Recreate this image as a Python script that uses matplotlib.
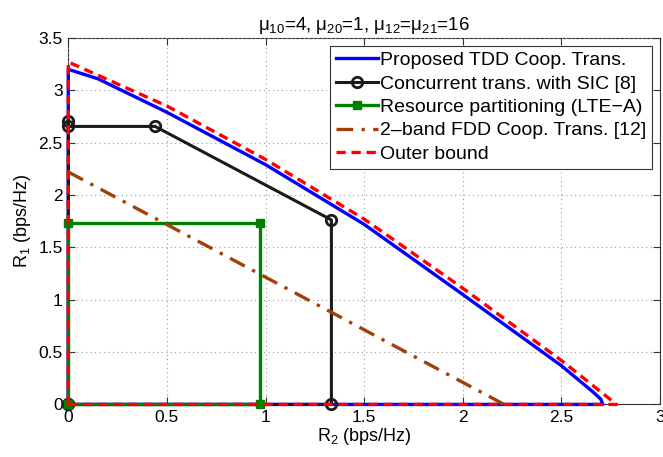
import matplotlib
matplotlib.use("Agg")
import matplotlib.pyplot as plt
import numpy as np

plt.rcParams['font.family'] = ['Liberation Sans', 'DejaVu Sans']
plt.rcParams['mathtext.fontset'] = 'custom'
plt.rcParams['mathtext.rm'] = 'Liberation Sans'
plt.rcParams['mathtext.it'] = 'Liberation Sans'
plt.rcParams['mathtext.default'] = 'regular'

# Proposed TDD cooperative transmission region (R2, R1)
tdd_r2 = [0.0, 0.0, 0.15, 0.5, 1.0, 1.5, 2.0, 2.5, 2.66, 2.70, 2.71, 0.0]
tdd_r1 = [0.0, 3.20, 3.11, 2.79, 2.29, 1.72, 1.05, 0.37, 0.12, 0.05, 0.0, 0.0]

# Concurrent transmission with SIC [8]
sic_r2 = [0.0, 0.0, 0.0, 0.44, 1.334, 1.334, 0.0]
sic_r1 = [0.0, 2.71, 2.655, 2.655, 1.762, 0.0, 0.0]

# Resource partitioning (LTE-A)
rp_r2 = [0.0, 0.0, 0.972, 0.972, 0.0]
rp_r1 = [0.0, 1.737, 1.737, 0.0, 0.0]

# 2-band FDD cooperative transmission [12]
fdd_r2 = [0.0, 2.21]
fdd_r1 = [2.22, 0.0]

# Outer bound
ob_r2 = [0.0, 0.0, 0.5, 1.0, 1.5, 2.0, 2.5, 2.78, 0.0]
ob_r1 = [0.0, 3.27, 2.85, 2.34, 1.77, 1.11, 0.42, 0.0, 0.0]

fig = plt.figure(figsize=(6.63, 4.57), dpi=100)
ax = fig.add_axes([0.103, 0.115, 0.8925, 0.802])

ax.plot(tdd_r2, tdd_r1, color='#0000ff', lw=2.4, label='Proposed TDD Coop. Trans.',
        zorder=3, clip_on=False)
ax.plot(sic_r2, sic_r1, color='#1a1a1a', lw=2.2, marker='o', ms=7.5, mfc='none',
        mew=2.0, label='Concurrent trans. with SIC [8]', zorder=4, clip_on=False)
ax.plot(rp_r2, rp_r1, color='#008000', lw=2.4, marker='s', ms=6, mfc='#008000',
        label='Resource partitioning (LTE\u2212A)', zorder=5, clip_on=False)
ax.plot(fdd_r2, fdd_r1, color='#a0400a', lw=2.4, ls=(0, (5, 2.5, 1, 2.5)),
        label='2\u2013band FDD Coop. Trans. [12]', zorder=5, clip_on=False)
ax.plot(ob_r2, ob_r1, color='#ff0000', lw=2.4, ls=(0, (2.8, 1.7)),
        label='Outer bound', zorder=6, clip_on=False)

ax.set_xlim(0, 3)
ax.set_ylim(0, 3.5)
ax.set_xticks(np.arange(0, 3.01, 0.5))
ax.set_xticklabels(['0', '0.5', '1', '1.5', '2', '2.5', '3'])
ax.set_yticks(np.arange(0, 3.51, 0.5))
ax.set_yticklabels(['0', '0.5', '1', '1.5', '2', '2.5', '3', '3.5'])
ax.tick_params(direction='in', top=True, right=True, labelsize=12.5, length=5,
               color='#333333', pad=4)
ax.grid(True, ls=(0, (1, 3)), color='#999999', lw=0.8)
for s in ax.spines.values():
    s.set_color('#333333')
    s.set_linewidth(0.8)
    s.set_zorder(1)

ax.set_xlabel('R$_2$ (bps/Hz)', fontsize=13, labelpad=1)
ax.set_ylabel('R$_1$ (bps/Hz)', fontsize=13, labelpad=4)
ax.set_title('\u03bc$_{10}$=4, \u03bc$_{20}$=1, \u03bc$_{12}$=\u03bc$_{21}$=16', fontsize=13.5, pad=6)

leg = ax.legend(loc='upper right', fontsize=14, fancybox=False, framealpha=1,
                edgecolor='#333333', handlelength=2.15, handletextpad=0.12,
                borderpad=0.3, labelspacing=0.3, borderaxespad=0.4)
leg.get_frame().set_linewidth(0.8)
leg.set_zorder(10)

fig.savefig('out.png', dpi=100)
